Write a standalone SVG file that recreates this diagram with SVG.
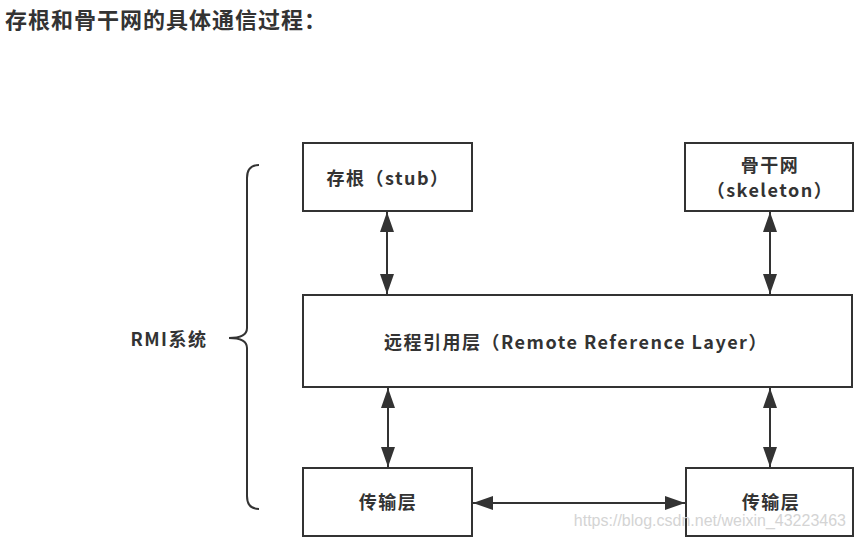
<svg xmlns="http://www.w3.org/2000/svg" width="856" height="538" viewBox="0 0 856 538">
<defs>
<style>
.t{font-family:"Noto Sans CJK SC","Microsoft YaHei",sans-serif;font-weight:bold;fill:#333;text-anchor:middle;dominant-baseline:central;font-size:18px;letter-spacing:1.5px}
.box{fill:#fff;stroke:#333;stroke-width:2}
.ln{stroke:#333;stroke-width:2;fill:none}
</style>
<marker id="ah" viewBox="0 0 20 14" refX="20" refY="7" markerWidth="20" markerHeight="14" markerUnits="userSpaceOnUse" orient="auto-start-reverse">
<path d="M0,0 L20,7 L0,14 Z" fill="#333"/>
</marker>
</defs>
<rect width="856" height="538" fill="#fff"/>
<text x="5" y="18" style="font-family:'Noto Sans CJK SC',sans-serif;font-weight:bold;font-size:22px;fill:#333;dominant-baseline:central;letter-spacing:1px">存根和骨干网的具体通信过程：</text>
<g id="brace">
<path class="ln" d="M259,165 Q247,165 247,178 L247,328 Q247,338 229,338 Q247,338 247,348 L247,496 Q247,509 259,509"/>
<text class="t" x="169" y="338">RMI系统</text>
</g>
<g id="stub">
<rect class="box" x="303" y="143" width="169" height="68"/>
<text class="t" x="388" y="177">存根（stub）</text>
</g>
<g id="skeleton">
<rect class="box" x="685" y="143" width="168" height="68"/>
<text class="t" x="770" y="164">骨干网</text>
<text class="t" x="770" y="189">（skeleton）</text>
</g>
<g id="rrl">
<rect class="box" x="303" y="295" width="549" height="92"/>
<text class="t" x="576" y="341">远程引用层（Remote Reference Layer）</text>
</g>
<g id="transport1">
<rect class="box" x="303" y="468" width="169" height="68"/>
<text class="t" x="388" y="501">传输层</text>
</g>
<g id="transport2">
<rect class="box" x="686" y="468" width="167" height="68"/>
<text class="t" x="771" y="501">传输层</text>
</g>
<g id="connectors">
<line class="ln" x1="387" y1="212" x2="387" y2="294" marker-start="url(#ah)" marker-end="url(#ah)"/>
<line class="ln" x1="770" y1="212" x2="770" y2="294" marker-start="url(#ah)" marker-end="url(#ah)"/>
<line class="ln" x1="388" y1="388" x2="388" y2="467" marker-start="url(#ah)" marker-end="url(#ah)"/>
<line class="ln" x1="770" y1="388" x2="770" y2="467" marker-start="url(#ah)" marker-end="url(#ah)"/>
<line class="ln" x1="473" y1="503" x2="685" y2="503" marker-start="url(#ah)" marker-end="url(#ah)"/>
</g>
<text x="846" y="526" style="font-family:'Liberation Sans',Arial,sans-serif;font-size:16px;fill:#d4d4d4;text-anchor:end">https://blog.csdn.net/weixin_43223463</text>
</svg>
